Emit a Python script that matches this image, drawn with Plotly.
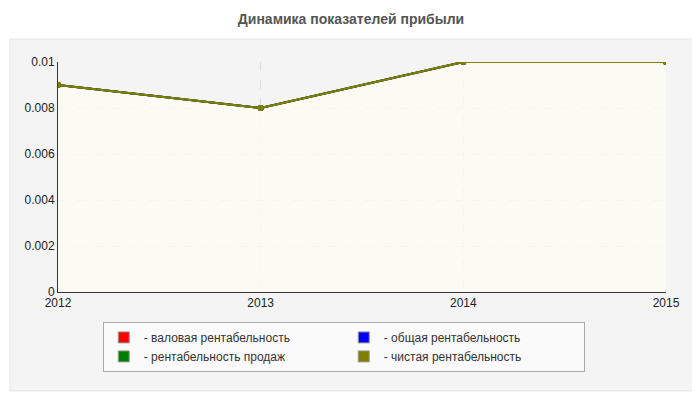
import plotly.graph_objects as go

years = [2012, 2013, 2014, 2015]
gross = [0.009, 0.008, 0.01, 0.01]
total = [0.009, 0.008, 0.01, 0.01]
sales = [0.009, 0.008, 0.01, 0.01]
net = [0.009, 0.008, 0.01, 0.01]
names = ["- валовая рентабельность", "- общая рентабельность", "- рентабельность продаж", "- чистая рентабельность"]
colors = ["red", "blue", "green", "#808000"]
series = [gross, total, sales, net]

fig = go.Figure()
fig.add_trace(go.Scatter(x=years, y=net, mode="none", fill="tozeroy",
                         fillcolor="rgba(252,252,242,0.8)", showlegend=False, hoverinfo="skip"))
for n, c, s in zip(names, colors, series):
    fig.add_trace(go.Scatter(x=years, y=s, mode="lines+markers", line=dict(color=c, width=2),
                             marker=dict(size=6, color=c), showlegend=False, name=n))
for n, c in zip(names, colors):
    fig.add_trace(go.Scatter(x=[None], y=[None], mode="markers", name=n,
                             marker=dict(symbol="square", size=11, color=c, line=dict(color="#999", width=1))))

fig.add_shape(type="rect", xref="paper", yref="paper", x0=-0.079, x1=1.05, y0=-0.43, y1=1.1,
              fillcolor="#f4f4f4", line=dict(color="#e4e4e4", width=1), layer="below")

fig.update_layout(
    width=700, height=400, paper_bgcolor="white", plot_bgcolor="white",
    margin=dict(l=50, r=42, t=54, b=116),
    title=dict(text="<b>Динамика показателей прибыли</b>", x=0.49, xanchor="center", y=0.985,
               font=dict(family="Liberation Sans, Arial", size=14, color="#555")),
    font=dict(family="Liberation Sans, Arial", size=12, color="#222"),
    xaxis=dict(range=[2012, 2015], tickvals=years, ticktext=[str(y) for y in years],
               showgrid=True, gridcolor="#ddd", griddash="dash", showline=True, linecolor="#333",
               zeroline=False, ticks="", tickfont=dict(size=12)),
    yaxis=dict(range=[0, 0.01], tickvals=[0, 0.002, 0.004, 0.006, 0.008, 0.01],
               ticktext=["0", "0.002", "0.004", "0.006", "0.008", "0.01"],
               showgrid=True, gridcolor="#ddd", griddash="dash", showline=True, linecolor="#333",
               zeroline=False, ticks="", tickfont=dict(size=12)),
    legend=dict(orientation="h", x=0.47, xanchor="center", y=-0.13, yanchor="top",
                entrywidth=195, itemwidth=30, bgcolor="#fafafa", bordercolor="#aaa", borderwidth=1,
                font=dict(size=12, color="#333"), traceorder="normal"),
)
fig.write_html("out.html")
